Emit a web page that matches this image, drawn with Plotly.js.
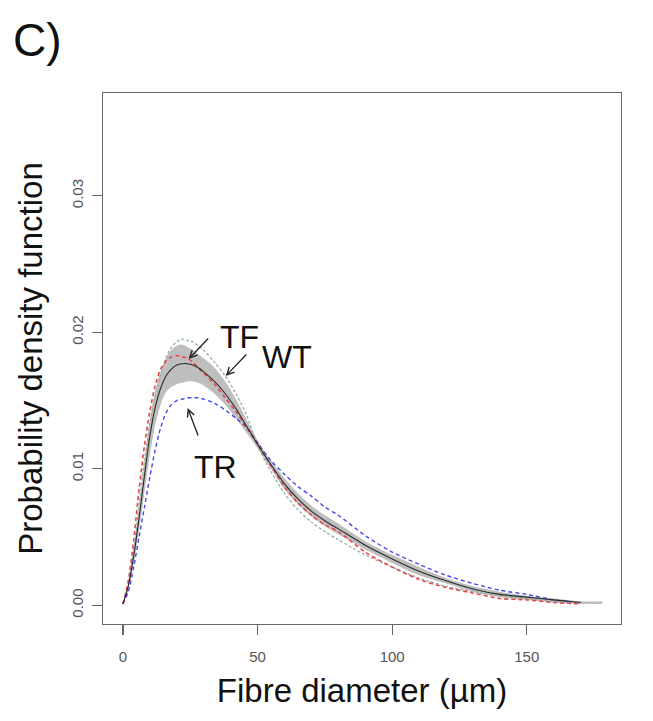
<!DOCTYPE html>
<html>
<head>
<meta charset="utf-8">
<script src="https://cdn.plot.ly/plotly-3.0.1.min.js"></script>
<style>html,body{margin:0;padding:0;background:#fff;}#chart{width:653px;height:721px;}</style>
</head>
<body>
<div id="chart"></div>
<script>
// Fibre diameter grid (µm)
const diam = [0, 2, 4, 6, 8, 10, 12, 14, 16, 18, 20, 22, 24, 26, 28, 30, 34, 38, 42, 46, 50, 55, 60, 65, 70, 75, 80, 90, 100, 110, 120, 130, 140, 150, 160, 170];
// Mean density (black solid)
const meanPdf = [0.0001, 0.0014, 0.0036, 0.0064, 0.0095, 0.0124, 0.0145, 0.0159, 0.0168, 0.0173, 0.0176, 0.0177, 0.0177, 0.0176, 0.0174, 0.0171, 0.0164, 0.0155, 0.0144, 0.0131, 0.0118, 0.0103, 0.0089, 0.0078, 0.0069, 0.0062, 0.0056, 0.0044, 0.0034, 0.0025, 0.0018, 0.0012, 0.0008, 0.0006, 0.0004, 0.0002];
// TF (red dashed)
const tfPdf = [0.0001, 0.0018, 0.0048, 0.0085, 0.0117, 0.0142, 0.0161, 0.0173, 0.0179, 0.0182, 0.0183, 0.0182, 0.0181, 0.0178, 0.0174, 0.0170, 0.0162, 0.0152, 0.0142, 0.0130, 0.0118, 0.0102, 0.0087, 0.0075, 0.0066, 0.0059, 0.0054, 0.0039, 0.0028, 0.0019, 0.0013, 0.0009, 0.0005, 0.0004, 0.0002, 0.0001];
// WT (grey-green dashed)
const wtPdf = [0.0001, 0.0015, 0.0040, 0.0074, 0.0106, 0.0133, 0.0153, 0.0169, 0.0181, 0.0189, 0.0193, 0.0195, 0.0194, 0.0193, 0.0190, 0.0187, 0.0178, 0.0168, 0.0155, 0.0139, 0.0117, 0.0098, 0.0082, 0.0070, 0.0061, 0.0054, 0.0048, 0.0037, 0.0028, 0.0020, 0.0014, 0.0010, 0.0007, 0.0005, 0.0003, 0.0002];
// TR (blue dashed)
const trDiam = [0, 2, 4, 6, 8, 10, 12, 14, 16, 18, 20, 22, 24, 26, 28, 30, 34, 38, 42, 46, 50, 55, 60, 65, 70, 75, 80, 90, 100, 110, 120, 130, 140, 150, 160, 165];
const trPdf = [0.0001, 0.0010, 0.0028, 0.0050, 0.0072, 0.0094, 0.0114, 0.0130, 0.0141, 0.0147, 0.0150, 0.0151, 0.0152, 0.0152, 0.0152, 0.0151, 0.0148, 0.0143, 0.0137, 0.0130, 0.0119, 0.0106, 0.0096, 0.0087, 0.0080, 0.0072, 0.0066, 0.0051, 0.0039, 0.0030, 0.0022, 0.0016, 0.0011, 0.0008, 0.0004, 0.0003];
// Confidence band (grey)
const bandDiam = [0, 2, 4, 6, 8, 10, 12, 14, 16, 18, 20, 22, 24, 26, 28, 30, 34, 38, 42, 46, 50, 55, 60, 65, 70, 75, 80, 90, 100, 110, 120, 130, 140, 150, 160, 170, 178];
const bandUpper = [0.0002, 0.0017, 0.0042, 0.0072, 0.0105, 0.0135, 0.0157, 0.0171, 0.0181, 0.0187, 0.0190, 0.0191, 0.0189, 0.0187, 0.0184, 0.0181, 0.0174, 0.0164, 0.0151, 0.0136, 0.0121, 0.0106, 0.0093, 0.0082, 0.0073, 0.0066, 0.0060, 0.0047, 0.0037, 0.0028, 0.0020, 0.0014, 0.0010, 0.0007, 0.0005, 0.0003, 0.0003];
const bandLower = [0.0001, 0.0012, 0.0031, 0.0055, 0.0083, 0.0110, 0.0132, 0.0147, 0.0156, 0.0160, 0.0162, 0.0163, 0.0164, 0.0164, 0.0163, 0.0161, 0.0155, 0.0147, 0.0137, 0.0126, 0.0115, 0.0100, 0.0085, 0.0074, 0.0065, 0.0058, 0.0052, 0.0041, 0.0031, 0.0022, 0.0016, 0.0010, 0.0006, 0.0004, 0.0002, 0.0001, 0.0001];

const xTicks = [0, 50, 100, 150];
const yTicks = [0, 0.01, 0.02, 0.03];
const yTickText = ["0.00", "0.01", "0.02", "0.03"];

const traces = [
  {x: bandDiam, y: bandLower, mode: 'lines', line: {width: 0, color: 'rgba(0,0,0,0)', shape: 'spline'}, showlegend: false, hoverinfo: 'skip'},
  {x: bandDiam, y: bandUpper, mode: 'lines', fill: 'tonexty', fillcolor: '#bebebe', line: {width: 0, color: 'rgba(0,0,0,0)', shape: 'spline'}, showlegend: false},
  {x: diam, y: wtPdf, name: 'WT', mode: 'lines', line: {color: '#8fb3a4', width: 1.3, dash: '3px,2px', shape: 'spline', smoothing: 0.8}},
  {x: trDiam, y: trPdf, name: 'TR', mode: 'lines', line: {color: '#4848f0', width: 1.4, dash: '4px,3px', shape: 'spline', smoothing: 0.8}},
  {x: diam, y: tfPdf, name: 'TF', mode: 'lines', line: {color: '#e8454a', width: 1.6, dash: '4px,3px', shape: 'spline', smoothing: 0.8}},
  {x: diam, y: meanPdf, name: 'mean', mode: 'lines', line: {color: '#2a2a2a', width: 1.1, shape: 'spline', smoothing: 0.8}}
];

const axisCommon = {
  showgrid: false, zeroline: false, showline: true, mirror: true,
  linecolor: '#666', linewidth: 1.3,
  ticks: 'outside', ticklen: 10, tickwidth: 1.2, tickcolor: '#666',
  tickfont: {family: 'Liberation Sans, Arial, sans-serif', size: 15, color: '#555'}
};

const layout = {
  width: 653, height: 721,
  margin: {l: 103, r: 32, t: 93, b: 97},
  paper_bgcolor: '#fff', plot_bgcolor: '#fff',
  showlegend: false,
  xaxis: Object.assign({}, axisCommon, {
    range: [-7.4, 185], tickvals: xTicks, ticktext: xTicks.map(String),
    ticklabelstandoff: 9,
    title: {text: 'Fibre diameter (µm)', font: {family: 'Liberation Sans, Arial, sans-serif', size: 33, color: '#111'}, standoff: 14}
  }),
  yaxis: Object.assign({}, axisCommon, {
    range: [-0.00137, 0.03753], tickvals: yTicks, ticktext: yTickText, tickangle: -90,
    ticklabelstandoff: 3,
    title: {text: 'Probability density function', font: {family: 'Liberation Sans, Arial, sans-serif', size: 33, color: '#111'}, standoff: 16}
  }),
  annotations: [
    {xref: 'paper', yref: 'paper', x: -0.1255, y: 1.10, xanchor: 'center', yanchor: 'middle', text: 'C)', showarrow: false, font: {family: 'Liberation Sans, Arial, sans-serif', size: 46, color: '#111'}},
    {x: 24.4, y: 0.01804, ax: 21, ay: -22, text: '', showarrow: true, arrowhead: 5, arrowsize: 1.1, arrowwidth: 1.3, arrowcolor: '#222'},
    {x: 38.2, y: 0.0168, ax: 22, ay: -23, text: '', showarrow: true, arrowhead: 5, arrowsize: 1.1, arrowwidth: 1.3, arrowcolor: '#222'},
    {x: 24.05, y: 0.01445, ax: 11, ay: 29, text: '', showarrow: true, arrowhead: 5, arrowsize: 1.1, arrowwidth: 1.3, arrowcolor: '#222'},
    {x: 43.2, y: 0.01962, text: 'TF', showarrow: false, font: {family: 'Liberation Sans, Arial, sans-serif', size: 32, color: '#111'}},
    {x: 61.0, y: 0.01819, text: 'WT', showarrow: false, font: {family: 'Liberation Sans, Arial, sans-serif', size: 32, color: '#111'}},
    {x: 34.5, y: 0.0101, text: 'TR', showarrow: false, font: {family: 'Liberation Sans, Arial, sans-serif', size: 32, color: '#111'}}
  ]
};

Plotly.newPlot('chart', traces, layout, {displayModeBar: false, staticPlot: true});
</script>
</body>
</html>
